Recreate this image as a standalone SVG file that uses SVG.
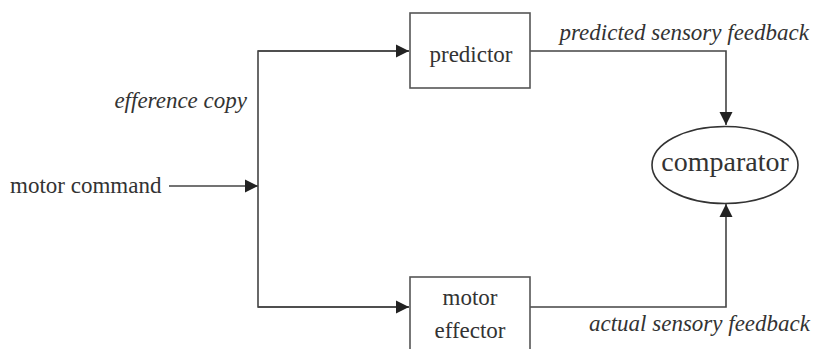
<svg xmlns="http://www.w3.org/2000/svg" width="814" height="349" viewBox="0 0 814 349">
<defs>
<style>
.box{fill:#fff;stroke:#555;stroke-width:1.6}
.ln{fill:none;stroke:#444;stroke-width:1.6}
.t{font-family:'Liberation Serif','DejaVu Serif',serif;font-size:23px;fill:#333}
.i{font-style:italic}
</style>
<marker id="ah" markerWidth="14" markerHeight="14" viewBox="0 0 14 14" refX="13" refY="7" orient="auto" markerUnits="userSpaceOnUse">
<path d="M0,0.5 L13,7 L0,13.5 Z" fill="#222"/>
</marker>
</defs>
<rect width="814" height="349" fill="#fff"/>
<g id="connectors">
<line class="ln" x1="169" y1="186" x2="258" y2="186" marker-end="url(#ah)"/>
<polyline class="ln" points="409,51 258,51 258,307 409,307" />
<line class="ln" x1="258" y1="51" x2="409" y2="51" marker-end="url(#ah)"/>
<line class="ln" x1="258" y1="307" x2="409" y2="307" marker-end="url(#ah)"/>
<polyline class="ln" points="530,51 726,51 726,125" marker-end="url(#ah)"/>
<polyline class="ln" points="530,307 726,307 726,204" marker-end="url(#ah)"/>
</g>
<g id="predictor">
<rect class="box" x="410" y="13" width="120" height="75"/>
<text class="t" x="471" y="62" text-anchor="middle">predictor</text>
</g>
<g id="motor-effector">
<rect class="box" x="410" y="277" width="120" height="80"/>
<text class="t" x="470" y="305" text-anchor="middle">motor</text>
<text class="t" x="470" y="338" text-anchor="middle">effector</text>
</g>
<g id="comparator">
<ellipse cx="725" cy="165" rx="73" ry="38.5" fill="#fff" stroke="#333" stroke-width="1.6"/>
<text class="t" x="725" y="171" text-anchor="middle" style="font-size:28px">comparator</text>
</g>
<g id="labels">
<text class="t" x="10" y="193">motor command</text>
<text class="t i" x="247" y="108" text-anchor="end">efference copy</text>
<text class="t i" x="809" y="40" text-anchor="end">predicted sensory feedback</text>
<text class="t i" x="810" y="331" text-anchor="end">actual sensory feedback</text>
</g>
</svg>
